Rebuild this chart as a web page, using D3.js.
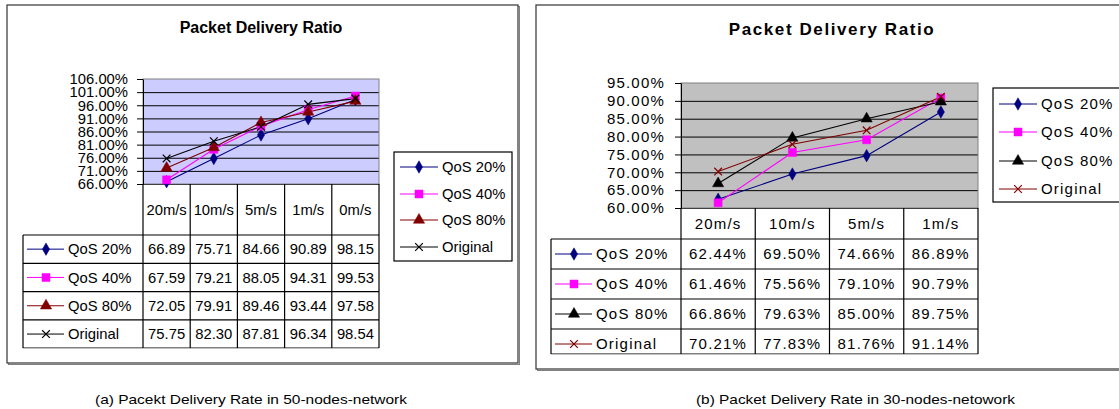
<!DOCTYPE html>
<html>
<head>
<meta charset="utf-8">
<script src="https://cdn.jsdelivr.net/npm/d3@7"></script>
<style>
  body { margin: 0; background: #fff; }
  text { font-family: "Liberation Sans", Arial, sans-serif; fill: #000; }
</style>
</head>
<body>
<script>
// Data - chart (a), 50 nodes
const categoriesA = ["20m/s", "10m/s", "5m/s", "1m/s", "0m/s"];
const seriesNames = ["QoS 20%", "QoS 40%", "QoS 80%", "Original"];
const qos20A = [66.89, 75.71, 84.66, 90.89, 98.15];
const qos40A = [67.59, 79.21, 88.05, 94.31, 99.53];
const qos80A = [72.05, 79.91, 89.46, 93.44, 97.58];
const originalA = [75.75, 82.30, 87.81, 96.34, 98.54];
const yTicksA = [66, 71, 76, 81, 86, 91, 96, 101, 106];

// Data - chart (b), 30 nodes
const categoriesB = ["20m/s", "10m/s", "5m/s", "1m/s"];
const qos20B = [62.44, 69.50, 74.66, 86.89];
const qos40B = [61.46, 75.56, 79.10, 90.79];
const qos80B = [66.86, 79.63, 85.00, 89.75];
const originalB = [70.21, 77.83, 81.76, 91.14];
const yTicksB = [60, 65, 70, 75, 80, 85, 90, 95];

const titleText = "Packet Delivery Ratio";
const captionA = "(a) Pacekt Delivery Rate in 50-nodes-network";
const captionB = "(b) Packet Delivery Rate in 30-nodes-netowork";

let svg = d3.select('body')
  .append('svg')
  .attr('width', 1119)
  .attr('height', 409);

const symTimes = d3.symbolTimes || d3.symbolX;

// series styles (marker + colour)
const stylesA = [
  { color: "#000080", symbol: d3.symbolDiamond, size: 45, fill: true },
  { color: "#ff00ff", symbol: d3.symbolSquare, size: 64, fill: true },
  { color: "#800000", symbol: d3.symbolTriangle, size: 55, fill: true },
  { color: "#000000", symbol: symTimes, size: 40, fill: false }
];
const stylesB = [
  { color: "#000080", symbol: d3.symbolDiamond, size: 45, fill: true },
  { color: "#ff00ff", symbol: d3.symbolSquare, size: 64, fill: true },
  { color: "#000000", symbol: d3.symbolTriangle, size: 55, fill: true },
  { color: "#800000", symbol: symTimes, size: 40, fill: false }
];

drawChart({
  box: { x: 7, y: 5, w: 511, h: 358 },
  title: { x: 261, y: 33, size: 16, spacing: 0 },
  plot: { left: 143, right: 379, top: 79, bottom: 184, bg: "#ccccff" },
  headerBottom: 235, rowH: 28.3, tableBottom: 348, labelLeft: 23,
  font: 14.8, spacing: 0, tickPad: 9,
  legend: { x: 394, y: 152, w: 118, h: 109, rowY: [167, 194, 220, 247] },
  categories: categoriesA,
  series: [qos20A, qos40A, qos80A, originalA],
  styles: stylesA,
  yTicks: yTicksA,
  fmt: d => d.toFixed(2)
});

drawChart({
  box: { x: 536, y: 5, w: 600, h: 364 },
  title: { x: 832, y: 35, size: 17, spacing: 1.6 },
  plot: { left: 681, right: 978, top: 83, bottom: 208, bg: "#c0c0c0" },
  headerBottom: 239, rowH: 30, tableBottom: 354, labelLeft: 551,
  font: 15, spacing: 1.2, tickPad: 10,
  legend: { x: 993, y: 88, w: 140, h: 114, rowY: [104, 132, 161, 189] },
  categories: categoriesB,
  series: [qos20B, qos40B, qos80B, originalB],
  styles: stylesB,
  yTicks: yTicksB,
  fmt: d => d.toFixed(2) + "%"
});

// captions
svg.append('text')
  .attr('x', 95).attr('y', 404)
  .attr('textLength', 312).attr('lengthAdjust', 'spacingAndGlyphs')
  .style('font-size', '13.5px')
  .text(captionA);
svg.append('text')
  .attr('x', 696).attr('y', 404)
  .attr('textLength', 319).attr('lengthAdjust', 'spacingAndGlyphs')
  .style('font-size', '13.5px')
  .text(captionB);

function marker(g, style, x, y) {
  g.append('path')
    .attr('d', d3.symbol().type(style.symbol).size(style.size))
    .attr('transform', `translate(${x},${y})`)
    .attr('fill', style.fill ? style.color : 'none')
    .attr('stroke', style.color)
    .attr('stroke-width', style.fill ? 0.5 : 1.2);
}

function drawChart(cfg) {
  let g = svg.append('g');
  const p = cfg.plot;

  // chart border with shadow
  g.append('rect')
    .attr('x', cfg.box.x + 1.5).attr('y', cfg.box.y + 1.5)
    .attr('width', cfg.box.w).attr('height', cfg.box.h)
    .attr('fill', 'none').attr('stroke', '#808080').attr('stroke-width', 1);
  g.append('rect')
    .attr('x', cfg.box.x).attr('y', cfg.box.y)
    .attr('width', cfg.box.w).attr('height', cfg.box.h)
    .attr('fill', '#fff').attr('stroke', '#333').attr('stroke-width', 1.2);

  // title
  g.append('text')
    .attr('x', cfg.title.x).attr('y', cfg.title.y)
    .attr('text-anchor', 'middle')
    .attr('font-weight', 'bold')
    .style('font-size', cfg.title.size + 'px')
    .style('letter-spacing', cfg.title.spacing + 'px')
    .text(titleText);

  // scales
  let xScale = d3.scaleBand()
    .domain(cfg.categories)
    .range([p.left, p.right]);
  let yScale = d3.scaleLinear()
    .domain([d3.min(cfg.yTicks), d3.max(cfg.yTicks)])
    .range([p.bottom, p.top]);
  let xMap = (i) => xScale(cfg.categories[i]) + xScale.bandwidth() / 2;

  // plot background
  g.append('rect')
    .attr('x', p.left).attr('y', p.top)
    .attr('width', p.right - p.left).attr('height', p.bottom - p.top)
    .attr('fill', p.bg);

  // gridlines
  g.append('g')
    .attr('transform', `translate(${p.left},0)`)
    .call(d3.axisLeft(yScale).tickValues(cfg.yTicks.slice(0, -1))
      .tickSize(-(p.right - p.left)).tickFormat(''))
    .call(a => a.select('.domain').remove())
    .selectAll('line').attr('stroke', '#000').attr('stroke-width', 1);

  // plot border
  g.append('rect')
    .attr('x', p.left).attr('y', p.top)
    .attr('width', p.right - p.left).attr('height', p.bottom - p.top)
    .attr('fill', 'none').attr('stroke', '#808080');

  // y axis
  let yAxis = g.append('g')
    .attr('transform', `translate(${p.left},0)`)
    .call(d3.axisLeft(yScale).tickValues(cfg.yTicks)
      .tickSize(6).tickSizeOuter(0).tickPadding(cfg.tickPad)
      .tickFormat(d => d.toFixed(2) + '%'));
  yAxis.select('.domain').attr('stroke', '#000');
  yAxis.selectAll('text')
    .style('font-family', '"Liberation Sans", Arial, sans-serif')
    .style('font-size', cfg.font + 'px')
    .style('letter-spacing', cfg.spacing + 'px')
    .attr('fill', '#000');

  // data table
  let t = g.append('g');
  const nRows = cfg.series.length;
  const clipId = 'clip' + p.left;
  g.append('clipPath').attr('id', clipId)
    .append('rect')
    .attr('x', cfg.labelLeft - 2).attr('y', p.bottom - 2)
    .attr('width', p.right - cfg.labelLeft + 4)
    .attr('height', cfg.tableBottom - p.bottom + 2.5);
  t.attr('clip-path', `url(#${clipId})`);

  // header cells
  t.selectAll('.hdr')
    .data(cfg.categories)
    .enter()
    .append('text')
    .attr('x', d => xScale(d) + xScale.bandwidth() / 2)
    .attr('y', (p.bottom + cfg.headerBottom) / 2)
    .attr('dy', '0.35em')
    .attr('text-anchor', 'middle')
    .style('font-size', cfg.font + 'px')
    .style('letter-spacing', cfg.spacing + 'px')
    .text(d => d);

  // horizontal rules
  for (let r = 0; r <= nRows; r++) {
    let y = Math.min(cfg.headerBottom + r * cfg.rowH, cfg.tableBottom);
    t.append('line')
      .attr('x1', cfg.labelLeft).attr('x2', p.right)
      .attr('y1', y).attr('y2', y)
      .attr('stroke', '#000').attr('stroke-width', 1.2);
  }
  // vertical rules
  cfg.categories.forEach((c) => {
    t.append('line')
      .attr('x1', xScale(c)).attr('x2', xScale(c))
      .attr('y1', p.bottom).attr('y2', cfg.tableBottom)
      .attr('stroke', '#000').attr('stroke-width', 1.2);
  });
  t.append('line')
    .attr('x1', p.right).attr('x2', p.right)
    .attr('y1', p.bottom).attr('y2', cfg.tableBottom)
    .attr('stroke', '#000').attr('stroke-width', 1.2);
  t.append('line')
    .attr('x1', cfg.labelLeft).attr('x2', cfg.labelLeft)
    .attr('y1', cfg.headerBottom).attr('y2', cfg.tableBottom)
    .attr('stroke', '#000').attr('stroke-width', 1.2);

  // rows
  cfg.series.forEach((vals, s) => {
    let cy = cfg.headerBottom + s * cfg.rowH + cfg.rowH / 2;
    let st = cfg.styles[s];
    t.append('line')
      .attr('x1', cfg.labelLeft + 4).attr('x2', cfg.labelLeft + 41)
      .attr('y1', cy).attr('y2', cy)
      .attr('stroke', st.color).attr('stroke-width', 1);
    marker(t, st, cfg.labelLeft + 23, cy);
    t.append('text')
      .attr('x', cfg.labelLeft + 45).attr('y', cy).attr('dy', '0.35em')
      .style('font-size', cfg.font + 'px')
      .style('letter-spacing', cfg.spacing + 'px')
      .text(seriesNames[s]);
    t.selectAll('.v' + s)
      .data(vals)
      .enter()
      .append('text')
      .attr('x', (d, i) => xMap(i))
      .attr('y', cy).attr('dy', '0.35em')
      .attr('text-anchor', 'middle')
      .style('font-size', cfg.font + 'px')
      .style('letter-spacing', cfg.spacing + 'px')
      .text(d => cfg.fmt(d));
  });

  // lines & markers
  let line = d3.line()
    .x((d, i) => xMap(i))
    .y(d => yScale(d));
  cfg.series.forEach((vals, s) => {
    let st = cfg.styles[s];
    g.append('path')
      .datum(vals)
      .attr('d', line)
      .attr('fill', 'none')
      .attr('stroke', st.color)
      .attr('stroke-width', 1.1);
  });
  cfg.series.forEach((vals, s) => {
    vals.forEach((v, i) => marker(g, cfg.styles[s], xMap(i), yScale(v)));
  });

  // legend
  const L = cfg.legend;
  g.append('rect')
    .attr('x', L.x).attr('y', L.y)
    .attr('width', L.w).attr('height', L.h)
    .attr('fill', '#fff').attr('stroke', '#000').attr('stroke-width', 1.2);
  seriesNames.forEach((name, s) => {
    let st = cfg.styles[s];
    let y = L.rowY[s];
    g.append('line')
      .attr('x1', L.x + 6).attr('x2', L.x + 44)
      .attr('y1', y).attr('y2', y)
      .attr('stroke', st.color).attr('stroke-width', 1);
    marker(g, st, L.x + 25, y);
    g.append('text')
      .attr('x', L.x + 48).attr('y', y).attr('dy', '0.35em')
      .style('font-size', cfg.font + 'px')
      .style('letter-spacing', cfg.spacing + 'px')
      .text(name);
  });
}
</script>
</body>
</html>
